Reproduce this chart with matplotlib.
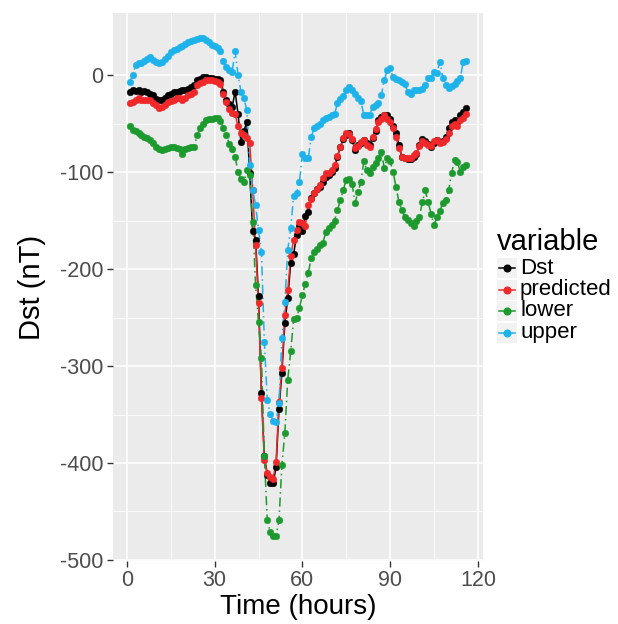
import numpy as np
import matplotlib.pyplot as plt
from matplotlib.lines import Line2D
from matplotlib.patches import Rectangle

plt.rcParams['font.family'] = ['Liberation Sans', 'DejaVu Sans']

hours = np.arange(1, 117)

dst = [-17, -15, -16, -15, -17, -16, -17, -19, -21, -25,
       -26, -26, -24, -21, -19, -17, -17, -16, -15, -15,
       -14, -12, -10, -5, -4, -2, -2, -3, -3, -4,
       -4, -5, -17, -26, -30, -33, -17, -40, -69, -58,
       -48, -101, -161, -170, -228, -328, -393, -412, -421, -421,
       -404, -344, -307, -256, -230, -194, -185, -165, -156, -161,
       -145, -141, -127, -122, -117, -115, -110, -105, -103, -100,
       -96, -84, -74, -66, -62, -60, -67, -77, -72, -70,
       -67, -70, -72, -65, -58, -46, -43, -41, -41, -45,
       -52, -60, -72, -84, -86, -87, -87, -84, -81, -72,
       -66, -68, -71, -74, -70, -67, -69, -68, -64, -55,
       -48, -46, -48, -41, -38, -34]

predicted = [-29, -28, -26, -24, -26, -26, -26, -26, -29, -31,
             -34, -33, -31, -28, -27, -26, -24, -24, -26, -24,
             -21, -19, -17, -10, -8, -7, -5, -5, -5, -6,
             -7, -9, -19, -28, -35, -39, -40, -53, -60, -62,
             -65, -70, -118, -175, -235, -333, -397, -410, -414, -416,
             -399, -337, -302, -247, -222, -187, -170, -160, -151, -153,
             -156, -134, -128, -122, -117, -113, -106, -101, -101, -98,
             -93, -83, -74, -65, -60, -61, -66, -75, -73, -69,
             -67, -72, -74, -64, -56, -48, -45, -41, -45, -48,
             -55, -64, -75, -84, -86, -85, -86, -82, -80, -73,
             -68, -70, -72, -73, -68, -67, -70, -69, -66, -60,
             -52, -50, -52, -46, -44, -40]

lower = [-52, -57, -58, -60, -62, -64, -65, -67, -70, -74,
         -76, -77, -76, -75, -74, -74, -75, -76, -81, -76,
         -75, -74, -74, -62, -55, -50, -46, -45, -45, -44,
         -44, -47, -55, -62, -71, -76, -84, -100, -107, -110,
         -98, -103, -151, -216, -255, -292, -393, -459, -471, -475,
         -475, -459, -402, -369, -314, -285, -252, -251, -240, -227,
         -215, -204, -189, -182, -179, -175, -173, -162, -158, -155,
         -150, -139, -129, -118, -108, -107, -112, -132, -121, -110,
         -89, -98, -101, -95, -91, -86, -79, -96, -86, -89,
         -100, -115, -131, -139, -146, -149, -153, -156, -150, -146,
         -131, -119, -131, -143, -155, -146, -140, -132, -129, -119,
         -101, -88, -90, -100, -95, -93]

upper = [-7, 0, 10, 12, 12, 15, 17, 19, 16, 14,
         12, 13, 17, 20, 24, 26, 27, 29, 30, 32,
         34, 35, 36, 37, 38, 38, 36, 34, 31, 30,
         28, 25, 15, 8, 5, 3, 25, 0, -17, -24,
         -36, -93, -118, -134, -160, -182, -275, -335, -349, -357,
         -358, -338, -271, -234, -180, -158, -125, -122, -110, -81,
         -86, -86, -64, -55, -52, -50, -46, -44, -43, -41,
         -40, -29, -25, -22, -15, -12, -15, -20, -24, -27,
         -41, -41, -41, -33, -31, -29, -21, -5, 5, 7,
         -2, -4, -5, -7, -9, -17, -19, -15, -15, -15,
         -14, -10, -3, -3, 3, 2, 14, -3, -10, -13,
         -11, -9, -6, -3, 14, 15]

names = ["Dst", "predicted", "lower", "upper"]
series = [dst, predicted, lower, upper]
colors = ["#000000", "#F0282A", "#1C9A2E", "#1DB3EA"]
styles = ["-", "-", (0, (6, 2.5, 1, 2.5)), (0, (6, 2.5, 1, 2.5))]

fig = plt.figure(figsize=(6.18, 6.24), dpi=100)
ax = fig.add_axes([0.1828, 0.1016, 0.5988, 0.877])
ax.set_facecolor("#EBEBEB")

for y, c, ls in zip(series, colors, styles):
    ax.plot(hours, y, color=c, linestyle=ls, linewidth=1.1, zorder=3)
for y, c in zip(series, colors):
    ax.plot(hours, y, linestyle="none", marker="o", markersize=4.8,
            markerfacecolor=c, markeredgecolor=c, markeredgewidth=0.3, zorder=4)

ax.set_xlim(-4.75, 121.75)
ax.set_ylim(-500.65, 63.65)
ax.set_xticks([0, 30, 60, 90, 120])
ax.set_xticks([15, 45, 75, 105], minor=True)
ax.set_yticks([0, -100, -200, -300, -400, -500])
ax.set_yticks([-50, -150, -250, -350, -450], minor=True)
ax.set_yticklabels(["0", "-100", "-200", "-300", "-400", "-500"])
ax.grid(which="major", color="white", linewidth=1.1, zorder=0)
ax.grid(which="minor", color="white", linewidth=0.55, zorder=0)
ax.set_axisbelow(True)
for s in ax.spines.values():
    s.set_visible(False)
ax.tick_params(which="major", length=4, width=1, color="#333333",
               labelcolor="#4D4D4D", labelsize=15.5, pad=3)
ax.tick_params(which="minor", length=0)
ax.set_xlabel("Time (hours)", fontsize=20, color="black", labelpad=2)
ax.set_ylabel("Dst (nT)", fontsize=21, color="black", labelpad=10)

# legend
fig.text(497 / 618, 1 - 250 / 624, "variable", fontsize=21, ha="left", va="baseline")
row_y = [268, 289.5, 311, 332.5]
for name, c, yy in zip(names, colors, row_y):
    yf = 1 - yy / 624
    fig.add_artist(Rectangle((497 / 618, yf - 10 / 624), 20 / 618, 20 / 624,
                             transform=fig.transFigure, facecolor="#F2F2F2",
                             edgecolor="none"))
    fig.add_artist(Line2D([499 / 618, 515 / 618], [yf, yf], color=c,
                          linewidth=1.1, transform=fig.transFigure))
    fig.add_artist(Line2D([507 / 618], [yf], marker="o", markersize=4.8,
                          color=c, transform=fig.transFigure))
    fig.text(520 / 618, yf, name, fontsize=16, ha="left", va="center")

fig.savefig("out.png", dpi=100)
